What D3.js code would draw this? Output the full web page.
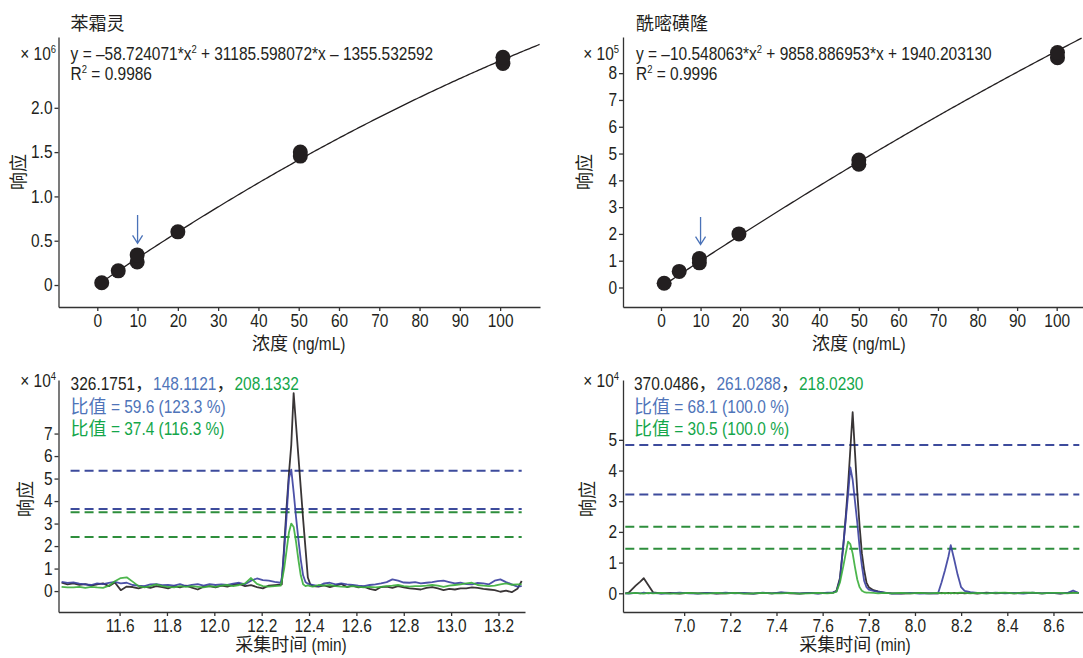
<!DOCTYPE html>
<html>
<head>
<meta charset="utf-8">
<script src="https://cdn.jsdelivr.net/npm/d3@7/dist/d3.min.js"></script>
<style>
body { margin: 0; background: #fff; }
text { font-family: "Liberation Sans", Arial, sans-serif; fill: #231f20; white-space: pre; }
.axis .domain, .axis line { stroke: #333; stroke-width: 1.3; }
.axis text { font-size: 18px; fill: #231f20; font-family: "Liberation Sans", Arial, sans-serif; }
</style>
</head>
<body>
<script>
var width = 1083
var height = 658
var narrow = 0.86   // squeeze the latin font to look like the condensed original
var cjkFont = "'Noto Sans CJK SC', sans-serif"
var latinFont = "'Liberation Sans', Arial, sans-serif"

// ---- calibration: 苯霜灵 (x10^6) ----
var calConc1 = [1.1, 5.2, 9.9, 9.9, 20, 50.4, 50.4, 100.7, 100.7]
var calResp1 = [0.026, 0.16, 0.26, 0.34, 0.60, 1.455, 1.50, 2.50, 2.57]
var fitCoef1 = [-58.724071, 31185.598072, -1355.532592]
var calXTicks1 = [0, 10, 20, 30, 40, 50, 60, 70, 80, 90, 100]
var calYTicks1 = [0, 0.5, 1.0, 1.5, 2.0]
var calYLabels1 = ["0", "0.5", "1.0", "1.5", "2.0"]

// ---- calibration: 酰嘧磺隆 (x10^5) ----
var calConc2 = [0.8, 4.6, 9.7, 9.7, 19.7, 50, 50, 100.2, 100.2]
var calResp2 = [0.16, 0.60, 0.92, 1.08, 2.0, 4.6, 4.76, 8.58, 8.77]
var fitCoef2 = [-10.548063, 9858.886953, 1940.203130]
var calXTicks2 = [0, 10, 20, 30, 40, 50, 60, 70, 80, 90, 100]
var calYTicks2 = [0, 1, 2, 3, 4, 5, 6, 7, 8]

// ---- chromatogram 1 (x10^4) ----
var chrTime1 = [11.355, 11.38, 11.405, 11.43, 11.455, 11.48, 11.505, 11.53, 11.555, 11.58,
  11.605, 11.63, 11.655, 11.68, 11.705, 11.73, 11.755, 11.78, 11.805, 11.83,
  11.855, 11.88, 11.905, 11.93, 11.955, 11.98, 12.005, 12.03, 12.055, 12.08,
  12.105, 12.13, 12.155, 12.18, 12.205, 12.23, 12.255, 12.28,
  12.285, 12.295, 12.305, 12.315, 12.325, 12.335, 12.345, 12.355, 12.365, 12.375,
  12.385, 12.395, 12.405, 12.415,
  12.44, 12.464, 12.488, 12.512, 12.536, 12.56, 12.584, 12.608, 12.632, 12.656,
  12.68, 12.704, 12.728, 12.752, 12.776, 12.80, 12.824, 12.848, 12.872, 12.896,
  12.92, 12.944, 12.968, 12.992, 13.016, 13.04, 13.064, 13.088, 13.112, 13.136,
  13.16, 13.184, 13.208, 13.232, 13.256, 13.28, 13.298]
var chrBlack1 = [0.37, 0.30, 0.34, 0.28, 0.31, 0.24, 0.30, 0.34, 0.22, 0.38,
  0.04, 0.20, 0.18, 0.12, 0.20, 0.14, 0.22, 0.18, 0.12, 0.22,
  0.16, 0.24, 0.15, 0.07, 0.20, 0.22, 0.16, 0.24, 0.20, 0.28,
  0.32, 0.22, 0.26, 0.18, 0.12, 0.24, 0.26, 0.28,
  0.30, 2.0, 3.7, 5.2, 6.5, 8.8, 7.4, 6.0, 4.6, 3.2,
  1.9, 0.6, 0.30, 0.22,
  0.20, 0.25, 0.18, 0.24, 0.32, 0.18, 0.24, 0.16, 0.20, 0.10,
  0.04, 0.18, 0.20, 0.14, 0.22, 0.16, 0.12, 0.10, 0.07, 0.14,
  0.18, 0.12, 0.04, 0.10, 0.07, 0.12, 0.12, 0.16, 0.14, 0.10,
  0.07, 0.04, -0.03, 0.02, -0.05, 0.10, 0.45]
var chrBlue1 = [0.41, 0.36, 0.39, 0.33, 0.30, 0.27, 0.34, 0.31, 0.36, 0.41,
  0.34, 0.37, 0.27, 0.24, 0.22, 0.30, 0.31, 0.26, 0.27, 0.24,
  0.31, 0.22, 0.28, 0.31, 0.24, 0.31, 0.27, 0.30, 0.27, 0.33,
  0.37, 0.30, 0.46, 0.56, 0.49, 0.46, 0.41, 0.37,
  0.6, 1.8, 3.3, 5.0, 5.4, 4.4, 3.3, 2.3, 1.4, 0.7,
  0.40, 0.33, 0.30, 0.28,
  0.22, 0.34, 0.37, 0.30, 0.34, 0.30, 0.27, 0.24, 0.22, 0.27,
  0.30, 0.34, 0.40, 0.52, 0.46, 0.38, 0.37, 0.40, 0.34, 0.37,
  0.40, 0.44, 0.46, 0.40, 0.34, 0.37, 0.31, 0.30, 0.36, 0.34,
  0.30, 0.46, 0.52, 0.40, 0.30, 0.20, 0.22]
var chrGreen1 = [0.19, 0.16, 0.16, 0.19, 0.14, 0.19, 0.16, 0.14, 0.24, 0.44,
  0.58, 0.61, 0.42, 0.22, 0.16, 0.22, 0.30, 0.22, 0.19, 0.16,
  0.22, 0.19, 0.22, 0.19, 0.16, 0.22, 0.19, 0.24, 0.27, 0.22,
  0.27, 0.34, 0.58, 0.32, 0.22, 0.20, 0.22, 0.24,
  0.45, 1.0, 1.8, 2.6, 3.0, 2.85, 2.2, 1.4, 0.7, 0.30,
  0.22, 0.25, 0.22, 0.20,
  0.27, 0.24, 0.27, 0.22, 0.20, 0.19, 0.22, 0.19, 0.16, 0.19,
  0.16, 0.19, 0.22, 0.24, 0.27, 0.22, 0.20, 0.22, 0.22, 0.24,
  0.27, 0.24, 0.19, 0.24, 0.27, 0.30, 0.34, 0.37, 0.27, 0.24,
  0.22, 0.24, 0.30, 0.34, 0.28, 0.30, 0.30]
var chrBlueLimits1 = [5.35, 3.65]
var chrGreenLimits1 = [3.5, 2.4]
var chrXTicks1 = [11.6, 11.8, 12.0, 12.2, 12.4, 12.6, 12.8, 13.0, 13.2]
var chrYTicks1 = [0, 1, 2, 3, 4, 5, 6, 7]

// ---- chromatogram 2 (x10^4) ----
var chrTime2 = [6.745, 6.76, 6.79, 6.81, 6.825, 6.845, 6.865, 6.90, 6.94, 6.98,
  7.02, 7.06, 7.10, 7.14, 7.18, 7.22, 7.26, 7.30, 7.34, 7.38,
  7.42, 7.46, 7.50, 7.54, 7.58, 7.62, 7.645, 7.66, 7.675, 7.69,
  7.70, 7.71, 7.72, 7.73, 7.74, 7.75, 7.76, 7.77, 7.78, 7.79,
  7.80, 7.82, 7.84, 7.87, 7.90, 7.94, 7.98, 8.02, 8.06, 8.10,
  8.115, 8.13, 8.145, 8.155, 8.17, 8.185, 8.20, 8.215, 8.24, 8.27,
  8.31, 8.35, 8.39, 8.43, 8.47, 8.51, 8.55, 8.59, 8.63, 8.66,
  8.685, 8.71]
var chrBlack2 = [0, 0.02, 0.25, 0.38, 0.49, 0.26, 0.03, 0, 0.01, -0.01,
  0.01, 0, 0.01, -0.01, 0, 0.01, 0, -0.01, 0.01, 0,
  0.02, 0, -0.01, 0.01, 0, 0.01, 0.02, 0.08, 0.5, 1.6,
  2.5, 3.5, 4.7, 5.9, 4.6, 3.3, 2.2, 1.3, 0.75, 0.35,
  0.2, 0.1, 0.06, 0.01, 0, -0.01, 0, 0.01, 0, 0,
  0.01, 0, 0.01, 0, 0.01, 0, 0.01, 0, 0.01, -0.01,
  0.02, 0, 0.01, 0, 0.02, 0.01, 0, 0.01, -0.01, 0.01,
  0.03, 0.01]
var chrBlue2 = [0, -0.01, 0.01, 0, 0.02, 0, 0.01, -0.01, 0, 0.02,
  0, -0.01, 0.01, 0, 0.02, 0, 0.01, -0.01, 0.02, 0,
  0.03, 0.01, 0, 0.01, -0.01, 0.02, 0.03, 0.06, 0.45, 1.6,
  2.4, 3.2, 4.1, 3.7, 3.0, 2.3, 1.5, 0.9, 0.4, 0.2,
  0.12, 0.08, 0.05, 0.02, -0.01, 0, 0.01, -0.01, 0, 0,
  0.35, 0.75, 1.2, 1.57, 1.1, 0.6, 0.2, 0.08, 0.04, 0.01,
  0, 0.02, 0, 0.01, -0.01, 0.02, 0, 0.01, 0, 0.01,
  0.09, 0.01]
var chrGreen2 = [0, 0, 0.01, 0, -0.01, 0.01, 0, 0.01, -0.01, 0,
  0.01, 0, -0.01, 0.01, 0, 0.01, -0.01, 0, 0.01, 0,
  0, 0.01, -0.01, 0, 0.01, 0, 0.01, 0.05, 0.35, 0.9,
  1.3, 1.68, 1.6, 1.3, 0.85, 0.45, 0.2, 0.08, 0.04, 0.02,
  0.02, 0.01, 0, 0.01, 0, 0.01, 0, 0.01, 0, 0.01,
  0, 0.01, 0, 0.01, 0, 0.01, 0.02, 0.01, 0, 0.01,
  0, 0.01, 0.02, 0, 0.01, 0.02, 0, 0.01, 0.01, 0,
  0.01, 0.01]
var chrBlueLimits2 = [4.83, 3.22]
var chrGreenLimits2 = [2.17, 1.45]
var chrXTicks2 = [7.0, 7.2, 7.4, 7.6, 7.8, 8.0, 8.2, 8.4, 8.6]
var chrYTicks2 = [0, 1, 2, 3, 4, 5]

var black = "#231f20"
var blueText = "#4f74b9"
var greenText = "#14a64a"
var blueLine = "#3a3f9f"
var greenLine = "#3aae3a"
var blueDash = "#3d4b9c"
var greenDash = "#2e8e3c"
var arrowColor = "#4a72b8"

var svg = d3.select("body").append("svg")
  .attr("width", width)
  .attr("height", height)

// a line of text built from pieces: {t, sup, cjk, color}
// latin pieces are squeezed, CJK pieces keep their width
function segText(x, y, parts, anchor) {
  var grp = svg.append("g")
  var cx = 0
  parts.forEach(function (p) {
    var sx = p.cjk ? 1 : narrow
    var t = grp.append("text")
      .attr("transform", "translate(" + cx + "," + (p.sup ? -7 : 0) + ") scale(" + sx + ",1)")
      .style("font-size", (p.sup ? 11 : 18) + "px")
      .style("font-family", p.cjk ? cjkFont : latinFont)
      .style("fill", p.color || black)
      .text(p.t)
    cx += t.node().getComputedTextLength() * sx
  })
  var shift = anchor == "end" ? -cx : anchor == "middle" ? -cx / 2 : 0
  grp.attr("transform", "translate(" + (x + shift) + "," + y + ")")
  return grp
}

function drawAxes(x, y, xTicks, yTicks, xFmt, yFmt) {
  svg.append("g")
    .attr("class", "axis")
    .attr("transform", "translate(0," + y.range()[0] + ")")
    .call(d3.axisBottom(x).tickValues(xTicks).tickFormat(xFmt).tickSizeInner(4).tickSizeOuter(0).tickPadding(3))
    .selectAll(".tick text")
    .attr("transform", "scale(" + narrow + ",1)")
  svg.append("g")
    .attr("class", "axis")
    .attr("transform", "translate(" + x.range()[0] + ",0)")
    .call(d3.axisLeft(y).tickValues(yTicks).tickFormat(yFmt).tickSizeInner(4).tickSizeOuter(0).tickPadding(2))
    .selectAll(".tick text")
    .attr("x", -6 / narrow)
    .attr("transform", "scale(" + narrow + ",1)")
}

function yLabel(cx, cy) {
  svg.append("text")
    .attr("transform", "translate(" + cx + "," + cy + ") rotate(-90)")
    .attr("text-anchor", "middle")
    .attr("dy", "0.35em")
    .style("font-family", cjkFont)
    .style("font-size", "18px")
    .text("响应")
}

function arrow(x, y, cx, fromV, toV) {
  var px = x(cx), y0 = y(fromV), y1 = y(toV)
  svg.append("path")
    .attr("d", "M" + px + "," + y0 + "V" + y1 + "M" + (px - 5) + "," + (y1 - 8) + "L" + px + "," + y1 + "L" + (px + 5) + "," + (y1 - 8))
    .style("fill", "none")
    .style("stroke", arrowColor)
    .style("stroke-width", 1.3)
}

function drawCalibration(opt) {
  var x = d3.scaleLinear().domain(opt.xDomain).range(opt.xRange)
  var y = d3.scaleLinear().domain(opt.yDomain).range([307, 37])
  drawAxes(x, y, opt.xTicks, opt.yTicks, d3.format("d"), opt.yFmt)

  // fitted quadratic, from the coefficients printed on the chart
  var c = opt.coef, s = opt.scale
  var xs = d3.range(0.3, opt.xDomain[1], 0.5)
  var fit = d3.line()
    .x(function (d) { return x(d) })
    .y(function (d) { return y((c[0] * d * d + c[1] * d + c[2]) / s) })
  svg.append("path")
    .datum(xs)
    .attr("d", fit)
    .style("fill", "none")
    .style("stroke", black)
    .style("stroke-width", 1.3)

  svg.selectAll(null)
    .data(opt.conc)
    .enter()
    .append("circle")
    .attr("cx", function (d) { return x(d) })
    .attr("cy", function (d, i) { return y(opt.resp[i]) })
    .attr("r", 7.5)
    .style("fill", black)

  arrow(x, y, 10, opt.arrow[0], opt.arrow[1])

  var tx = opt.textX
  segText(tx, 30, [{ t: opt.title, cjk: true }])
  segText(tx, 60, opt.eq)
  segText(tx, 80, [{ t: "R" }, { t: "2", sup: true }, { t: " = " + opt.r2 }])
  segText(opt.expX, 60, [{ t: "× 10" }, { t: opt.exp, sup: true }], "end")
  yLabel(opt.yLabX, 172)
  segText(x(50), 350, [{ t: "浓度", cjk: true }, { t: " (ng/mL)" }], "middle")
}

function drawChromatogram(opt) {
  var x = d3.scaleLinear().domain(opt.xDomain).range(opt.xRange)
  var y = d3.scaleLinear().domain(opt.yDomain).range([612, 380])
  drawAxes(x, y, opt.xTicks, opt.yTicks, d3.format(".1f"), d3.format("d"))

  // dashed ratio limits
  var lim = [].concat(
    opt.blueLim.map(function (v) { return { v: v, c: blueDash } }),
    opt.greenLim.map(function (v) { return { v: v, c: greenDash } }))
  svg.selectAll(null)
    .data(lim)
    .enter()
    .append("line")
    .attr("x1", x(opt.dashExt[0]))
    .attr("x2", x(opt.dashExt[1]))
    .attr("y1", function (d) { return y(d.v) })
    .attr("y2", function (d) { return y(d.v) })
    .style("stroke", function (d) { return d.c })
    .style("stroke-width", 2)
    .style("stroke-dasharray", "9,5")

  var traces = [
    { v: opt.black, c: black },
    { v: opt.blue, c: blueLine },
    { v: opt.green, c: greenLine }
  ]
  var line = d3.line()
    .x(function (d, i) { return x(opt.time[i]) })
    .y(function (d) { return y(d) })
  svg.selectAll(null)
    .data(traces)
    .enter()
    .append("path")
    .attr("d", function (d) { return line(d.v) })
    .style("fill", "none")
    .style("stroke", function (d) { return d.c })
    .style("stroke-width", 1.8)
    .style("stroke-linejoin", "round")
    .style("opacity", 0.9)

  var tx = opt.textX
  segText(tx, 390, [
    { t: opt.ions[0] }, { t: "，", cjk: true },
    { t: opt.ions[1], color: blueText }, { t: "，", cjk: true },
    { t: opt.ions[2], color: greenText }])
  segText(tx, 413, [{ t: "比值", cjk: true, color: blueText }, { t: opt.ratio1, color: blueText }])
  segText(tx, 435, [{ t: "比值", cjk: true, color: greenText }, { t: opt.ratio2, color: greenText }])
  segText(opt.expX, 387, [{ t: "× 10" }, { t: "4", sup: true }], "end")
  yLabel(opt.yLabX, 499)
  segText(opt.xLabX, 651, [{ t: "采集时间", cjk: true }, { t: " (min)" }], "middle")
}

drawCalibration({
  xDomain: [-9.63, 109.9], xRange: [58.5, 540], yDomain: [-0.248, 2.799],
  xTicks: calXTicks1, yTicks: calYTicks1,
  yFmt: function (d, i) { return calYLabels1[i] },
  conc: calConc1, resp: calResp1, coef: fitCoef1, scale: 1e6,
  arrow: [0.79, 0.47],
  textX: 70.6, expX: 56, yLabX: 19, title: "苯霜灵", exp: "6",
  eq: [{ t: "y = –58.724071*x" }, { t: "2", sup: true }, { t: " + 31185.598072*x – 1355.532592" }],
  r2: "0.9986"
})

drawCalibration({
  xDomain: [-9.6, 106.65], xRange: [623, 1083], yDomain: [-0.728, 9.35],
  xTicks: calXTicks2, yTicks: calYTicks2,
  yFmt: d3.format("d"),
  conc: calConc2, resp: calResp2, coef: fitCoef2, scale: 1e5,
  arrow: [2.63, 1.6],
  textX: 636, expX: 619, yLabX: 585, title: "酰嘧磺隆", exp: "5",
  eq: [{ t: "y = –10.548063*x" }, { t: "2", sup: true }, { t: " + 9858.886953*x + 1940.203130" }],
  r2: "0.9996"
})

drawChromatogram({
  xDomain: [11.342, 13.312], xRange: [58.5, 525], yDomain: [-0.93, 9.38],
  xTicks: chrXTicks1, yTicks: chrYTicks1,
  time: chrTime1, black: chrBlack1, blue: chrBlue1, green: chrGreen1,
  blueLim: chrBlueLimits1, greenLim: chrGreenLimits1, dashExt: [11.393, 13.298],
  textX: 70.6, expX: 56, yLabX: 26, xLabX: 291,
  ions: ["326.1751", "148.1121", "208.1332"],
  ratio1: " = 59.6 (123.3 %)", ratio2: " = 37.4 (116.3 %)"
})

drawChromatogram({
  xDomain: [6.735, 8.728], xRange: [623, 1083], yDomain: [-0.61, 6.95],
  xTicks: chrXTicks2, yTicks: chrYTicks2,
  time: chrTime2, black: chrBlack2, blue: chrBlue2, green: chrGreen2,
  blueLim: chrBlueLimits2, greenLim: chrGreenLimits2, dashExt: [6.745, 8.712],
  textX: 634, expX: 619, yLabX: 588, xLabX: 855,
  ions: ["370.0486", "261.0288", "218.0230"],
  ratio1: " = 68.1 (100.0 %)", ratio2: " = 30.5 (100.0 %)"
})
</script>
</body>
</html>
